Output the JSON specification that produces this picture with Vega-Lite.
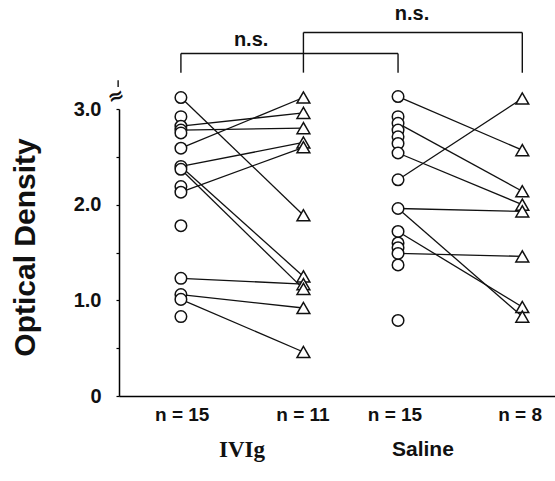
{
  "$schema": "https://vega.github.io/schema/vega-lite/v6.json",
  "width": 436,
  "height": 287,
  "autosize": "none",
  "padding": {"left": 119, "top": 109, "right": 0, "bottom": 85},
  "background": "white",
  "config": {"view": {"stroke": null}, "font": "Liberation Sans"},
  "datasets": {
    "pts": [
      {"group": "IVIg", "phase": "pre", "pos": 1.42, "od": 3.12},
      {"group": "IVIg", "phase": "pre", "pos": 1.42, "od": 2.92},
      {"group": "IVIg", "phase": "pre", "pos": 1.42, "od": 2.82},
      {"group": "IVIg", "phase": "pre", "pos": 1.42, "od": 2.78},
      {"group": "IVIg", "phase": "pre", "pos": 1.42, "od": 2.75},
      {"group": "IVIg", "phase": "pre", "pos": 1.42, "od": 2.59},
      {"group": "IVIg", "phase": "pre", "pos": 1.42, "od": 2.40},
      {"group": "IVIg", "phase": "pre", "pos": 1.42, "od": 2.37},
      {"group": "IVIg", "phase": "pre", "pos": 1.42, "od": 2.19},
      {"group": "IVIg", "phase": "pre", "pos": 1.42, "od": 2.13},
      {"group": "IVIg", "phase": "pre", "pos": 1.42, "od": 1.78},
      {"group": "IVIg", "phase": "pre", "pos": 1.42, "od": 1.23},
      {"group": "IVIg", "phase": "pre", "pos": 1.42, "od": 1.06},
      {"group": "IVIg", "phase": "pre", "pos": 1.42, "od": 1.01},
      {"group": "IVIg", "phase": "pre", "pos": 1.42, "od": 0.83},
      {"group": "IVIg", "phase": "post", "pos": 4.23, "od": 3.12},
      {"group": "IVIg", "phase": "post", "pos": 4.23, "od": 2.96},
      {"group": "IVIg", "phase": "post", "pos": 4.23, "od": 2.80},
      {"group": "IVIg", "phase": "post", "pos": 4.23, "od": 2.65},
      {"group": "IVIg", "phase": "post", "pos": 4.23, "od": 2.60},
      {"group": "IVIg", "phase": "post", "pos": 4.23, "od": 1.89},
      {"group": "IVIg", "phase": "post", "pos": 4.23, "od": 1.25},
      {"group": "IVIg", "phase": "post", "pos": 4.23, "od": 1.17},
      {"group": "IVIg", "phase": "post", "pos": 4.23, "od": 1.12},
      {"group": "IVIg", "phase": "post", "pos": 4.23, "od": 0.92},
      {"group": "IVIg", "phase": "post", "pos": 4.23, "od": 0.46},
      {"group": "Saline", "phase": "pre", "pos": 6.40, "od": 3.13},
      {"group": "Saline", "phase": "pre", "pos": 6.40, "od": 2.92},
      {"group": "Saline", "phase": "pre", "pos": 6.40, "od": 2.85},
      {"group": "Saline", "phase": "pre", "pos": 6.40, "od": 2.78},
      {"group": "Saline", "phase": "pre", "pos": 6.40, "od": 2.71},
      {"group": "Saline", "phase": "pre", "pos": 6.40, "od": 2.64},
      {"group": "Saline", "phase": "pre", "pos": 6.40, "od": 2.54},
      {"group": "Saline", "phase": "pre", "pos": 6.40, "od": 2.26},
      {"group": "Saline", "phase": "pre", "pos": 6.40, "od": 1.96},
      {"group": "Saline", "phase": "pre", "pos": 6.40, "od": 1.72},
      {"group": "Saline", "phase": "pre", "pos": 6.40, "od": 1.60},
      {"group": "Saline", "phase": "pre", "pos": 6.40, "od": 1.55},
      {"group": "Saline", "phase": "pre", "pos": 6.40, "od": 1.49},
      {"group": "Saline", "phase": "pre", "pos": 6.40, "od": 1.37},
      {"group": "Saline", "phase": "pre", "pos": 6.40, "od": 0.79},
      {"group": "Saline", "phase": "post", "pos": 9.25, "od": 3.11},
      {"group": "Saline", "phase": "post", "pos": 9.25, "od": 2.57},
      {"group": "Saline", "phase": "post", "pos": 9.25, "od": 2.14},
      {"group": "Saline", "phase": "post", "pos": 9.25, "od": 2.00},
      {"group": "Saline", "phase": "post", "pos": 9.25, "od": 1.93},
      {"group": "Saline", "phase": "post", "pos": 9.25, "od": 1.46},
      {"group": "Saline", "phase": "post", "pos": 9.25, "od": 0.93},
      {"group": "Saline", "phase": "post", "pos": 9.25, "od": 0.83}
    ],
    "links": [
      {"pos": 1.42, "od": 3.12, "pos2": 4.23, "od2": 1.89},
      {"pos": 1.42, "od": 2.82, "pos2": 4.23, "od2": 2.96},
      {"pos": 1.42, "od": 2.78, "pos2": 4.23, "od2": 2.80},
      {"pos": 1.42, "od": 2.59, "pos2": 4.23, "od2": 3.12},
      {"pos": 1.42, "od": 2.40, "pos2": 4.23, "od2": 2.65},
      {"pos": 1.42, "od": 2.13, "pos2": 4.23, "od2": 2.60},
      {"pos": 1.42, "od": 2.40, "pos2": 4.23, "od2": 1.25},
      {"pos": 1.42, "od": 2.37, "pos2": 4.23, "od2": 1.12},
      {"pos": 1.42, "od": 1.23, "pos2": 4.23, "od2": 1.17},
      {"pos": 1.42, "od": 1.06, "pos2": 4.23, "od2": 0.92},
      {"pos": 1.42, "od": 1.01, "pos2": 4.23, "od2": 0.46},
      {"pos": 6.40, "od": 3.13, "pos2": 9.25, "od2": 2.57},
      {"pos": 6.40, "od": 2.85, "pos2": 9.25, "od2": 2.14},
      {"pos": 6.40, "od": 2.54, "pos2": 9.25, "od2": 2.00},
      {"pos": 6.40, "od": 2.26, "pos2": 9.25, "od2": 3.11},
      {"pos": 6.40, "od": 1.96, "pos2": 9.25, "od2": 1.93},
      {"pos": 6.40, "od": 1.96, "pos2": 9.25, "od2": 0.83},
      {"pos": 6.40, "od": 1.72, "pos2": 9.25, "od2": 0.93},
      {"pos": 6.40, "od": 1.49, "pos2": 9.25, "od2": 1.46}
    ],
    "brackets": [
      {"pos": 1.42, "od": 3.38, "pos2": 1.42, "od2": 3.58},
      {"pos": 1.42, "od": 3.58, "pos2": 6.40, "od2": 3.58},
      {"pos": 6.40, "od": 3.58, "pos2": 6.40, "od2": 3.38},
      {"pos": 4.23, "od": 3.38, "pos2": 4.23, "od2": 3.80},
      {"pos": 4.23, "od": 3.80, "pos2": 9.25, "od2": 3.80},
      {"pos": 9.25, "od": 3.80, "pos2": 9.25, "od2": 3.38},
      {"pos": -0.02, "od": 3.23, "pos2": -0.02, "od2": 3.30}
    ],
    "ns": [
      {"pos": 3.03, "od": 3.72, "label": "n.s."},
      {"pos": 6.72, "od": 3.99, "label": "n.s."}
    ],
    "counts": [
      {"pos": 1.45, "od": -0.2, "label": "n = 15"},
      {"pos": 4.22, "od": -0.2, "label": "n = 11"},
      {"pos": 6.33, "od": -0.2, "label": "n = 15"},
      {"pos": 9.2, "od": -0.2, "label": "n = 8"}
    ],
    "g1": [{"pos": 2.82, "od": -0.565, "label": "IVIg"}],
    "g2": [{"pos": 6.97, "od": -0.565, "label": "Saline"}],
    "brk": [{"pos": -0.07, "od": 3.13, "label": "≈"}]
  },
  "encoding": {
    "x": {
      "field": "pos", "type": "quantitative",
      "scale": {"domain": [0, 10], "nice": false, "zero": false},
      "axis": {"title": null, "labels": false, "ticks": false, "grid": false, "domainColor": "black", "domainWidth": 1.5}
    },
    "y": {
      "field": "od", "type": "quantitative",
      "scale": {"domain": [0, 3], "nice": false},
      "axis": {
        "title": "Optical Density",
        "values": [0, 0.5, 1, 1.5, 2, 2.5, 3],
        "labelExpr": "datum.value == 0 ? '0' : (datum.value % 1 == 0 ? format(datum.value, '.1f') : '')",
        "grid": false,
        "domainColor": "black", "domainWidth": 1.5,
        "tickColor": "black", "tickSize": 3, "tickWidth": 1.2,
        "labelFont": "Liberation Sans", "labelFontSize": 20, "labelFontWeight": "bold", "labelColor": "#111", "labelPadding": 15,
        "titleFont": "Liberation Sans", "titleFontSize": 30, "titleFontWeight": "bold", "titleColor": "#111",
        "titleX": -94, "titleY": 138, "titleAngle": -90, "titleAlign": "center", "titleBaseline": "middle"
      }
    }
  },
  "layer": [
    {
      "data": {"name": "links"},
      "mark": {"type": "rule", "color": "#111", "strokeWidth": 1.3},
      "encoding": {"x2": {"field": "pos2"}, "y2": {"field": "od2"}}
    },
    {
      "data": {"name": "brackets"},
      "mark": {"type": "rule", "color": "#111", "strokeWidth": 1.4},
      "encoding": {"x2": {"field": "pos2"}, "y2": {"field": "od2"}}
    },
    {
      "data": {"name": "pts"},
      "mark": {"type": "point", "filled": false, "fill": "white", "fillOpacity": 1, "stroke": "#111", "strokeWidth": 1.5, "opacity": 1},
      "encoding": {
        "shape": {"field": "phase", "type": "nominal", "scale": {"domain": ["pre", "post"], "range": ["circle", "triangle-up"]}, "legend": null},
        "size": {"field": "phase", "type": "nominal", "scale": {"domain": ["pre", "post"], "range": [133, 165]}, "legend": null}
      }
    },
    {
      "data": {"name": "ns"},
      "mark": {"type": "text", "font": "Liberation Sans", "fontSize": 20, "fontWeight": "bold", "color": "#111", "align": "center", "baseline": "middle"},
      "encoding": {"text": {"field": "label"}}
    },
    {
      "data": {"name": "counts"},
      "mark": {"type": "text", "font": "Liberation Sans", "fontSize": 19, "fontWeight": "bold", "color": "#111", "align": "center", "baseline": "middle"},
      "encoding": {"text": {"field": "label"}}
    },
    {
      "data": {"name": "g1"},
      "mark": {"type": "text", "font": "Liberation Serif", "fontSize": 23, "fontWeight": "bold", "color": "#111", "align": "center", "baseline": "middle"},
      "encoding": {"text": {"field": "label"}}
    },
    {
      "data": {"name": "g2"},
      "mark": {"type": "text", "font": "Liberation Sans", "fontSize": 21, "fontWeight": "bold", "color": "#111", "align": "center", "baseline": "middle"},
      "encoding": {"text": {"field": "label"}}
    },
    {
      "data": {"name": "brk"},
      "mark": {"type": "text", "font": "DejaVu Sans", "fontSize": 20, "fontWeight": "bold", "color": "#111", "align": "center", "baseline": "middle", "angle": -20},
      "encoding": {"text": {"field": "label"}}
    }
  ]
}
